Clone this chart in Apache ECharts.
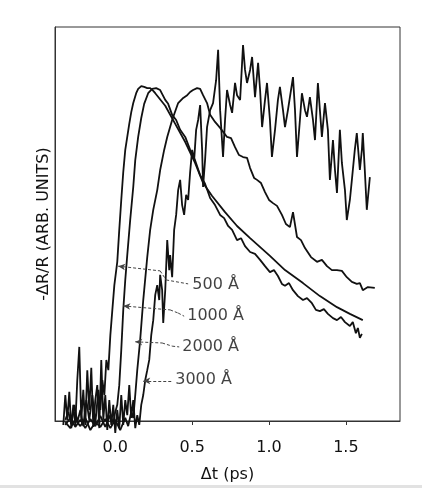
<!DOCTYPE html>
<html><head><meta charset="utf-8">
<script src="https://cdn.jsdelivr.net/npm/echarts@6/dist/echarts.min.js"></script>
<style>html,body{margin:0;padding:0;background:#fff}#c{width:422px;height:488px}</style>
</head><body><div id="c"></div>
<script>
// Thickness labels
const thicknessLabels = ['500 Å', '1000 Å', '2000 Å', '3000 Å'];
// Tick labels
const xTickValues = [0, 0.5, 1.0, 1.5];
const xTickLabels = ['0.0', '0.5', '1.0', '1.5'];

// series values [Δt (ps), -ΔR/R (arb.)]
const trace500 = [[-0.325,0.3],[-0.305,2.3],[-0.286,-0.8],[-0.266,4.1],[-0.247,-0.3],[-0.227,2.8],[-0.208,-1.3],[-0.188,5.3],[-0.169,0.3],[-0.149,6.6],[-0.130,-0.8],[-0.110,7.9],[-0.097,2.8],[-0.084,10.4],[-0.071,6.6],[-0.058,15.5],[-0.045,12.9],[-0.032,21.8],[-0.019,28.2],[-0.006,34.5],[0.013,40.4],[0.026,48.5],[0.039,56.1],[0.052,63.2],[0.065,68.8],[0.078,72.1],[0.091,75.4],[0.104,78.4],[0.117,80.7],[0.136,83.2],[0.149,84.3],[0.169,85.0],[0.188,84.8],[0.208,84.5],[0.227,84.5],[0.247,83.8],[0.260,83.2],[0.325,80.0],[0.390,75.4],[0.455,70.8],[0.519,65.5],[0.571,60.4],[0.630,57.1],[0.714,53.0],[0.792,49.5],[0.877,46.4],[1.006,41.9],[1.104,38.3],[1.221,35.0],[1.331,31.7],[1.442,28.9],[1.526,27.2],[1.610,25.6]];

const trace1000 = [[-0.325,-1.0],[-0.292,0.8],[-0.260,-1.5],[-0.227,0.3],[-0.195,-1.8],[-0.162,0.5],[-0.130,-1.3],[-0.097,1.3],[-0.065,-1.5],[-0.032,1.5],[-0.013,-0.5],[0,2.3],[0.013,4.1],[0.026,9.1],[0.039,18.0],[0.052,28.2],[0.065,35.8],[0.078,42.1],[0.097,51.0],[0.117,59.4],[0.130,66.2],[0.149,72.1],[0.169,76.9],[0.188,80.5],[0.214,83.2],[0.240,84.3],[0.266,84.5],[0.292,84.0],[0.325,81.5],[0.344,80.5],[0.370,77.7],[0.396,76.4],[0.422,73.9],[0.455,72.1],[0.487,68.8],[0.519,66.2],[0.552,62.4],[0.584,60.2],[0.617,56.6],[0.649,54.8],[0.682,52.3],[0.708,51.5],[0.734,49.5],[0.760,48.5],[0.792,45.9],[0.818,46.4],[0.844,44.4],[0.877,42.9],[0.909,42.4],[0.942,40.9],[0.974,39.3],[1.006,37.8],[1.032,38.3],[1.058,36.8],[1.084,34.8],[1.104,34.3],[1.130,35.0],[1.156,33.2],[1.188,31.7],[1.221,30.7],[1.247,31.2],[1.279,29.9],[1.305,28.2],[1.331,27.9],[1.357,28.4],[1.383,27.2],[1.416,26.1],[1.442,25.6],[1.468,26.4],[1.494,25.1],[1.526,24.1],[1.545,25.1],[1.565,22.3],[1.578,23.6],[1.591,21.1],[1.604,22.1]];

const trace2000 = [[-0.325,-0.3],[-0.292,-1.8],[-0.260,0.3],[-0.227,-1.3],[-0.195,0.8],[-0.162,-2.3],[-0.130,-0.3],[-0.097,-1.5],[-0.065,0.5],[-0.032,-1.8],[0,0.3],[0.032,-2.3],[0.065,0.8],[0.084,-1.3],[0.104,2.3],[0.117,0.8],[0.130,6.6],[0.143,12.9],[0.162,20.6],[0.182,30.7],[0.208,41.6],[0.227,48.5],[0.247,53.6],[0.273,58.6],[0.292,63.7],[0.318,68.8],[0.338,72.1],[0.370,76.4],[0.409,80.7],[0.442,82.0],[0.468,82.7],[0.487,83.5],[0.506,84.0],[0.532,84.5],[0.552,84.3],[0.571,82.7],[0.597,80.7],[0.617,77.7],[0.649,75.9],[0.682,74.4],[0.695,73.9],[0.727,72.1],[0.753,71.8],[0.779,69.5],[0.805,67.5],[0.831,67.0],[0.857,66.8],[0.877,64.2],[0.903,61.7],[0.922,61.2],[0.948,60.4],[0.974,58.1],[1.0,56.1],[1.026,55.3],[1.052,54.6],[1.084,52.3],[1.110,50.0],[1.136,49.2],[1.156,53.0],[1.182,46.7],[1.208,45.9],[1.234,43.9],[1.273,41.6],[1.312,40.4],[1.344,40.9],[1.377,39.3],[1.409,38.3],[1.442,38.3],[1.474,38.1],[1.506,36.5],[1.539,35.3],[1.571,34.8],[1.591,35.0],[1.610,33.2],[1.643,34.0],[1.688,33.8]];

const trace3000 = [[-0.338,-1.0],[-0.325,6.6],[-0.312,0.3],[-0.299,7.4],[-0.286,-1.8],[-0.273,4.1],[-0.260,-1.0],[-0.247,10.4],[-0.234,18.8],[-0.221,0.3],[-0.208,7.9],[-0.195,-1.0],[-0.182,12.9],[-0.169,2.8],[-0.156,13.5],[-0.143,-1.5],[-0.130,5.3],[-0.117,9.1],[-0.104,-1.8],[-0.091,15.5],[-0.078,0.3],[-0.065,6.6],[-0.052,-2.3],[-0.039,5.3],[-0.026,-1.0],[-0.013,4.1],[0,-3.0],[0.013,2.8],[0.026,-1.8],[0.039,6.6],[0.052,-1.0],[0.065,5.3],[0.078,1.5],[0.091,9.1],[0.104,0.8],[0.117,5.3],[0.130,-1.8],[0.143,1.5],[0.156,-1.0],[0.169,4.1],[0.182,6.6],[0.195,10.4],[0.208,12.9],[0.221,15.5],[0.234,21.8],[0.247,25.6],[0.260,32.0],[0.273,34.5],[0.286,30.7],[0.292,37.1],[0.305,33.2],[0.312,24.9],[0.325,33.2],[0.338,45.9],[0.351,38.3],[0.357,42.1],[0.370,36.5],[0.383,48.5],[0.396,52.3],[0.409,58.6],[0.422,61.2],[0.435,54.8],[0.448,52.3],[0.461,57.4],[0.474,56.1],[0.487,63.2],[0.500,68.8],[0.513,66.2],[0.526,73.9],[0.539,76.4],[0.552,80.2],[0.565,68.8],[0.571,59.4],[0.584,66.2],[0.597,74.6],[0.617,78.9],[0.636,80.7],[0.656,86.5],[0.669,94.2],[0.682,78.9],[0.701,67.0],[0.714,76.4],[0.727,84.0],[0.747,80.2],[0.760,78.2],[0.779,85.8],[0.792,82.7],[0.812,81.5],[0.831,95.4],[0.844,89.1],[0.857,85.8],[0.877,89.1],[0.890,92.4],[0.909,82.2],[0.929,90.9],[0.942,84.0],[0.955,74.6],[0.974,81.5],[0.987,85.8],[1.006,76.4],[1.019,67.0],[1.039,73.9],[1.058,81.5],[1.071,84.8],[1.091,78.9],[1.104,74.6],[1.123,78.9],[1.136,82.2],[1.156,87.3],[1.169,78.9],[1.182,67.0],[1.201,76.4],[1.214,83.2],[1.234,78.9],[1.247,77.2],[1.266,82.2],[1.286,76.4],[1.299,71.3],[1.318,85.8],[1.331,78.9],[1.344,72.1],[1.364,80.7],[1.383,73.9],[1.396,61.2],[1.416,71.3],[1.429,63.7],[1.442,57.9],[1.461,73.9],[1.474,65.5],[1.494,58.6],[1.506,51.0],[1.526,56.1],[1.539,61.2],[1.558,68.8],[1.571,73.1],[1.591,63.7],[1.604,68.8],[1.610,73.1],[1.623,63.7],[1.636,53.6],[1.656,61.9]];

// annotation anchors (data coords): label text start, leader polyline from arrow tip to label
const labelAnchors = [[0.501,34.5],[0.468,26.6],[0.436,18.8],[0.390,10.4]];
const leaderPaths = [
  [[0.019,39.3],[0.292,38.1],[0.331,35.8],[0.474,34.8]],
  [[0.052,29.2],[0.357,28.2],[0.409,27.4],[0.448,26.6]],
  [[0.130,20.1],[0.305,19.8],[0.370,19.0],[0.416,18.8]],
  [[0.182,10.2],[0.370,10.2]]
];

const FONT = 'DejaVu Sans';
const INK = '#111';

const markLineData = [];
leaderPaths.forEach(p => {
  for (let i = 0; i < p.length - 1; i++) {
    markLineData.push([
      { coord: p[i], symbol: i === 0 ? 'arrow' : 'none', symbolSize: [5, 7] },
      { coord: p[i + 1], symbol: 'none' }
    ]);
  }
});

const traceSeries = [trace500, trace1000, trace2000, trace3000].map((d, i) => ({
  name: thicknessLabels[i],
  type: 'line',
  data: d,
  showSymbol: false,
  clip: false,
  silent: true,
  lineStyle: { color: INK, width: 1.8 },
  z: 3
}));

const chart = echarts.init(document.getElementById('c'), null, { renderer: 'canvas' });
chart.setOption({
  animation: false,
  backgroundColor: '#fff',
  grid: { left: 55, right: 22, top: 27, bottom: 67, show: true, borderColor: '#333', borderWidth: 1, backgroundColor: 'transparent' },
  xAxis: {
    type: 'value', min: -0.392, max: 1.852,
    name: 'Δt (ps)', nameLocation: 'middle', nameGap: 46,
    nameTextStyle: { fontFamily: FONT, fontSize: 16, color: '#111' },
    axisLine: { show: true, onZero: false, lineStyle: { color: '#333', width: 1 } },
    axisTick: { show: true, length: 4, inside: false, customValues: xTickValues, lineStyle: { color: '#333' } },
    axisLabel: { show: true, customValues: xTickValues, margin: 19,
      formatter: v => { const i = xTickValues.findIndex(t => Math.abs(t - v) < 1e-6); return i >= 0 ? xTickLabels[i] : ''; },
      fontFamily: FONT, fontSize: 16, color: '#111' },
    splitLine: { show: false }
  },
  yAxis: {
    type: 'value', min: 0, max: 100,
    name: '-ΔR/R (ARB. UNITS)', nameLocation: 'middle', nameGap: 3, nameRotate: 90,
    nameTextStyle: { fontFamily: FONT, fontSize: 16, color: '#111' },
    axisLine: { show: true, onZero: false, lineStyle: { color: '#333', width: 1 } },
    axisTick: { show: false }, axisLabel: { show: false }, splitLine: { show: false }
  },
  graphic: [{ type: 'rect', shape: { x: 0, y: 485, width: 422, height: 3 }, style: { fill: '#e2e2e2' }, silent: true }],
  series: traceSeries.concat([{
    type: 'scatter',
    data: labelAnchors.map((a, i) => ({ value: a, name: thicknessLabels[i] })),
    symbolSize: 0,
    silent: true,
    label: { show: true, position: [0, 0], align: 'left', verticalAlign: 'middle', formatter: '{b}',
      fontFamily: FONT, fontSize: 16, color: '#111' },
    markLine: {
      silent: true, animation: false,
      label: { show: false },
      lineStyle: { color: '#444', width: 1, type: [3, 2] },
      emphasis: { disabled: true },
      data: markLineData
    },
    z: 4
  }])
});
</script></body></html>
